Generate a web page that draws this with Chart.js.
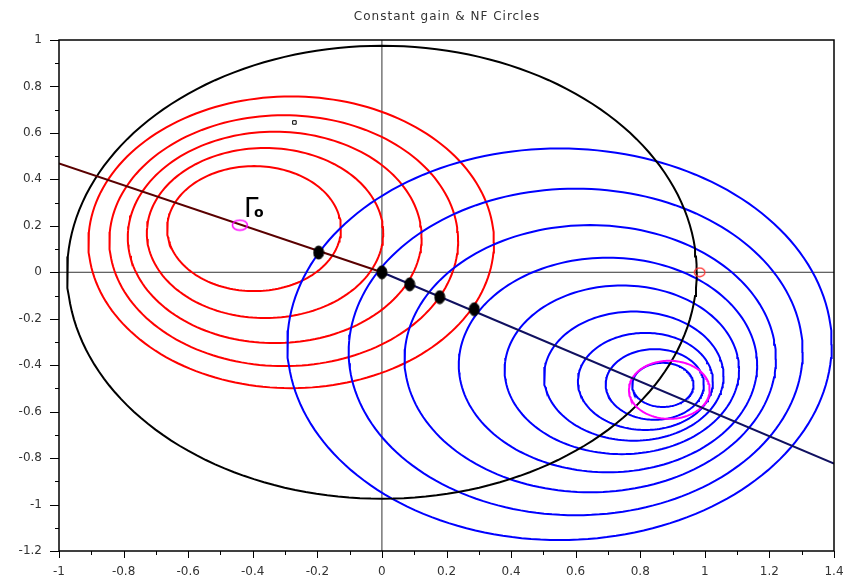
<!DOCTYPE html>
<html>
<head>
<meta charset="utf-8">
<script src="https://cdn.jsdelivr.net/npm/chart.js@4.4.0/dist/chart.umd.min.js"></script>
<style>
  html, body { margin: 0; padding: 0; background: #fff; }
  #wrap { width: 850px; height: 584px; }
</style>
</head>
<body>
<div id="wrap"><canvas id="chart" width="850" height="584"></canvas></div>
<script>
const chartTitle = 'Constant gain & NF Circles';
const xTickValues = [-1, -0.8, -0.6, -0.4, -0.2, 0, 0.2, 0.4, 0.6, 0.8, 1, 1.2, 1.4];
const yTickValues = [-1.2, -1, -0.8, -0.6, -0.4, -0.2, 0, 0.2, 0.4, 0.6, 0.8, 1];

// constant gain circles (red): centre x, centre y, radius
const gainCx = [-0.396, -0.362, -0.332, -0.304, -0.281];
const gainCy = [0.188, 0.169, 0.15, 0.136, 0.129];
const gainR = [0.269, 0.366, 0.455, 0.54, 0.628];

// constant NF circles (blue)
const nfCx = [0.55, 0.60, 0.645, 0.70, 0.743, 0.78, 0.816, 0.845, 0.87];
const nfCy = [-0.31, -0.343, -0.372, -0.399, -0.42, -0.447, -0.47, -0.483, -0.485];
const nfR = [0.843, 0.703, 0.575, 0.462, 0.363, 0.278, 0.209, 0.152, 0.095];

// |Gamma| = 1 boundary (black) and the magenta circle: [cx, cy, r]
const boundaryCircle = [0, 0, 0.975];
const magentaCircle = [0.89, -0.506, 0.125];

// lines through the origin
const sourceLineX = [-1, 0];
const sourceLineY = [0.468, 0];
const loadLineX = [0, 1.4];
const loadLineY = [0, -0.824];

// axes through the origin
const hAxisX = [-1, 1.4];
const hAxisY = [0, 0];
const vAxisX = [0, 0];
const vAxisY = [-1.2, 1];

// intersection dots
const dotX = [-0.196, 0, 0.086, 0.179, 0.286];
const dotY = [0.085, 0, -0.052, -0.107, -0.159];

// single markers
const gammaO = [-0.44, 0.203];
const redMark = [0.984, 0];
const squareMark = [-0.271, 0.645];
const gammaLabelAt = [-0.421, 0.236];

function ring(cx, cy, r) {
  const pts = [];
  for (let i = 0; i <= 180; i++) {
    const a = (i / 180) * Math.PI * 2;
    pts.push({ x: cx + r * Math.cos(a), y: cy + r * Math.sin(a) });
  }
  return pts;
}

function pairs(xs, ys) {
  return xs.map((x, i) => ({ x: x, y: ys[i] }));
}

function curve(data, color, width) {
  return {
    data: data,
    showLine: true,
    borderColor: color,
    borderWidth: width,
    pointRadius: 0,
    tension: 0,
    fill: false
  };
}

// little oval marker images (the reference markers are not round)
function oval(w, h, stroke, fill, lw) {
  const c = document.createElement('canvas');
  c.width = w;
  c.height = h;
  const g = c.getContext('2d');
  g.beginPath();
  g.ellipse(w / 2, h / 2, w / 2 - lw, h / 2 - lw, 0, 0, Math.PI * 2);
  if (fill) { g.fillStyle = fill; g.fill(); }
  g.lineWidth = lw;
  g.strokeStyle = stroke;
  g.stroke();
  return c;
}

// topmost first (chart.js paints dataset 0 last)
const datasets = [];
datasets.push({
  data: pairs(dotX, dotY),
  pointStyle: oval(12, 15, '#000', '#000', 1),
  showLine: false
});
datasets.push({
  data: [{ x: gammaO[0], y: gammaO[1] }],
  pointStyle: oval(18, 13, '#ff00ff', null, 1.5)
});
datasets.push({
  data: [{ x: redMark[0], y: redMark[1] }],
  pointStyle: oval(13, 11, '#ff3030', null, 1.2)
});
datasets.push({
  data: [{ x: squareMark[0], y: squareMark[1] }],
  pointStyle: 'rect',
  pointRadius: 2.5,
  pointBorderWidth: 1,
  pointBorderColor: '#000',
  pointBackgroundColor: '#fff'
});
datasets.push(curve(pairs(sourceLineX, sourceLineY), '#5a0000', 2));
datasets.push(curve(pairs(loadLineX, loadLineY), '#101060', 2));
datasets.push(curve(ring(magentaCircle[0], magentaCircle[1], magentaCircle[2]), '#ff00ff', 2));
datasets.push(curve(ring(boundaryCircle[0], boundaryCircle[1], boundaryCircle[2]), '#000', 2));
nfCx.forEach((cx, i) => datasets.push(curve(ring(cx, nfCy[i], nfR[i]), '#0000ff', 2)));
gainCx.forEach((cx, i) => datasets.push(curve(ring(cx, gainCy[i], gainR[i]), '#ff0000', 2)));
datasets.push(curve(pairs(hAxisX, hAxisY), '#333', 1));
datasets.push(curve(pairs(vAxisX, vAxisY), '#333', 1));

const frameAndTicks = {
  id: 'frameAndTicks',
  afterDraw(chart) {
    const { ctx, chartArea: a, scales: { x, y } } = chart;
    ctx.save();
    ctx.strokeStyle = '#000';
    ctx.lineWidth = 1;
    ctx.beginPath();
    xTickValues.forEach((v, i) => {
      const px = Math.round(x.getPixelForValue(v)) + 0.5;
      ctx.moveTo(px, a.bottom);
      ctx.lineTo(px, a.bottom + 7);
      if (i < xTickValues.length - 1) {
        const mx = Math.round(x.getPixelForValue((v + xTickValues[i + 1]) / 2)) + 0.5;
        ctx.moveTo(mx, a.bottom);
        ctx.lineTo(mx, a.bottom + 4);
      }
    });
    yTickValues.forEach((v, i) => {
      const py = Math.round(y.getPixelForValue(v)) + 0.5;
      ctx.moveTo(a.left, py);
      ctx.lineTo(a.left - 9, py);
      if (i < yTickValues.length - 1) {
        const my = Math.round(y.getPixelForValue((v + yTickValues[i + 1]) / 2)) + 0.5;
        ctx.moveTo(a.left, my);
        ctx.lineTo(a.left - 4, my);
      }
    });
    ctx.stroke();
    ctx.lineWidth = 1.5;
    ctx.strokeRect(a.left, a.top, a.right - a.left, a.bottom - a.top);

    // title
    ctx.fillStyle = '#333';
    ctx.font = '12px "DejaVu Sans"';
    ctx.textAlign = 'center';
    ctx.textBaseline = 'middle';
    ctx.letterSpacing = '1px';
    ctx.fillText(chartTitle, 447, 17);
    ctx.letterSpacing = '0px';

    // Gamma_o label
    const gx = x.getPixelForValue(gammaLabelAt[0]);
    const gy = y.getPixelForValue(gammaLabelAt[1]);
    ctx.fillStyle = '#000';
    ctx.textAlign = 'left';
    ctx.textBaseline = 'alphabetic';
    ctx.font = '26px "DejaVu Sans"';
    ctx.fillText('Γ', gx - 2, gy);
    ctx.font = 'bold 14px "DejaVu Sans"';
    ctx.fillText('o', gx + 8, gy);
    ctx.restore();
  }
};

const tickFont = { family: 'DejaVu Sans', size: 12 };
const fmt = v => String(Math.round(v * 10) / 10);

new Chart(document.getElementById('chart').getContext('2d'), {
  type: 'scatter',
  data: { datasets: datasets },
  options: {
    responsive: false,
    animation: false,
    events: [],
    layout: { padding: { top: 40, right: 16, left: 0, bottom: 0 } },
    plugins: {
      legend: { display: false },
      tooltip: { enabled: false },
      title: { display: false }
    },
    scales: {
      x: {
        type: 'linear',
        min: -1,
        max: 1.4,
        afterBuildTicks: s => { s.ticks = xTickValues.map(v => ({ value: v })); },
        afterFit: s => { s.height = 33; },
        grid: { display: false, drawTicks: true, tickLength: 8 },
        border: { display: false },
        ticks: { padding: 6, font: tickFont, color: '#333', maxRotation: 0, autoSkip: false, callback: fmt }
      },
      y: {
        type: 'linear',
        min: -1.2,
        max: 1,
        afterBuildTicks: s => { s.ticks = yTickValues.map(v => ({ value: v })); },
        afterFit: s => { s.width = 59; },
        grid: { display: false, drawTicks: true, tickLength: 8 },
        border: { display: false },
        ticks: { padding: 9, font: tickFont, color: '#333', autoSkip: false, callback: fmt }
      }
    }
  },
  plugins: [frameAndTicks]
});
</script>
</body>
</html>
